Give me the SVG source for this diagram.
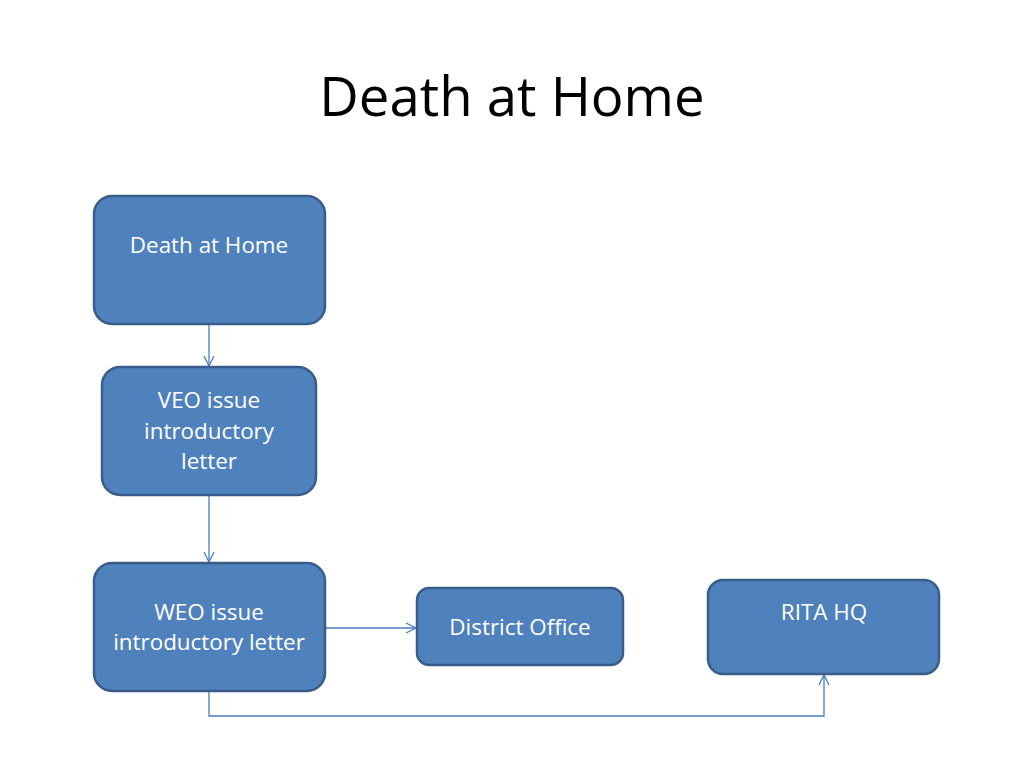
<svg xmlns="http://www.w3.org/2000/svg" width="1024" height="768" viewBox="0 0 1024 768">
<defs>
<style>
.node rect{fill:#4F81BD;stroke:#385D8A;stroke-width:2.5}
.node text{fill:#FFFFFF;font-family:"Open Sans","Liberation Sans",sans-serif;font-size:22.4px;text-anchor:middle}
.title{fill:#000000;font-family:"Open Sans","Liberation Sans",sans-serif;font-size:54.5px;text-anchor:middle}
.conn{fill:none;stroke:#4A7EBB;stroke-width:1.3}
</style>
<marker id="arr" viewBox="0 0 12 12" refX="11" refY="6" markerWidth="12" markerHeight="12" markerUnits="userSpaceOnUse" orient="auto">
<path d="M1,1 L11,6 L1,11" fill="none" stroke="#4A7EBB" stroke-width="1.3"/>
</marker>
</defs>
<rect width="1024" height="768" fill="#FFFFFF"/>
<text class="title" x="512" y="116">Death at Home</text>
<g id="connectors">
<path class="conn" d="M209,325 L209,366" marker-end="url(#arr)"/>
<path class="conn" d="M209,495 L209,562" marker-end="url(#arr)"/>
<path class="conn" d="M325,628 L416,628" marker-end="url(#arr)"/>
<path class="conn" d="M209,691 L209,716 L824,716 L824,675" marker-end="url(#arr)"/>
</g>
<g id="n1" class="node">
<rect x="94" y="196" width="231" height="128" rx="18"/>
<text x="209" y="253">Death at Home</text>
</g>
<g id="n2" class="node">
<rect x="102" y="367" width="214" height="128" rx="18"/>
<text x="209" y="408">VEO issue</text>
<text x="209" y="439">introductory</text>
<text x="209" y="469">letter</text>
</g>
<g id="n3" class="node">
<rect x="94" y="563" width="231" height="128" rx="18"/>
<text x="209" y="620">WEO issue</text>
<text x="209" y="650">introductory letter</text>
</g>
<g id="n4" class="node">
<rect x="417" y="588" width="206" height="77" rx="12"/>
<text x="520" y="635">District Office</text>
</g>
<g id="n5" class="node">
<rect x="708" y="580" width="231" height="94" rx="15"/>
<text x="824" y="620">RITA HQ</text>
</g>
</svg>
